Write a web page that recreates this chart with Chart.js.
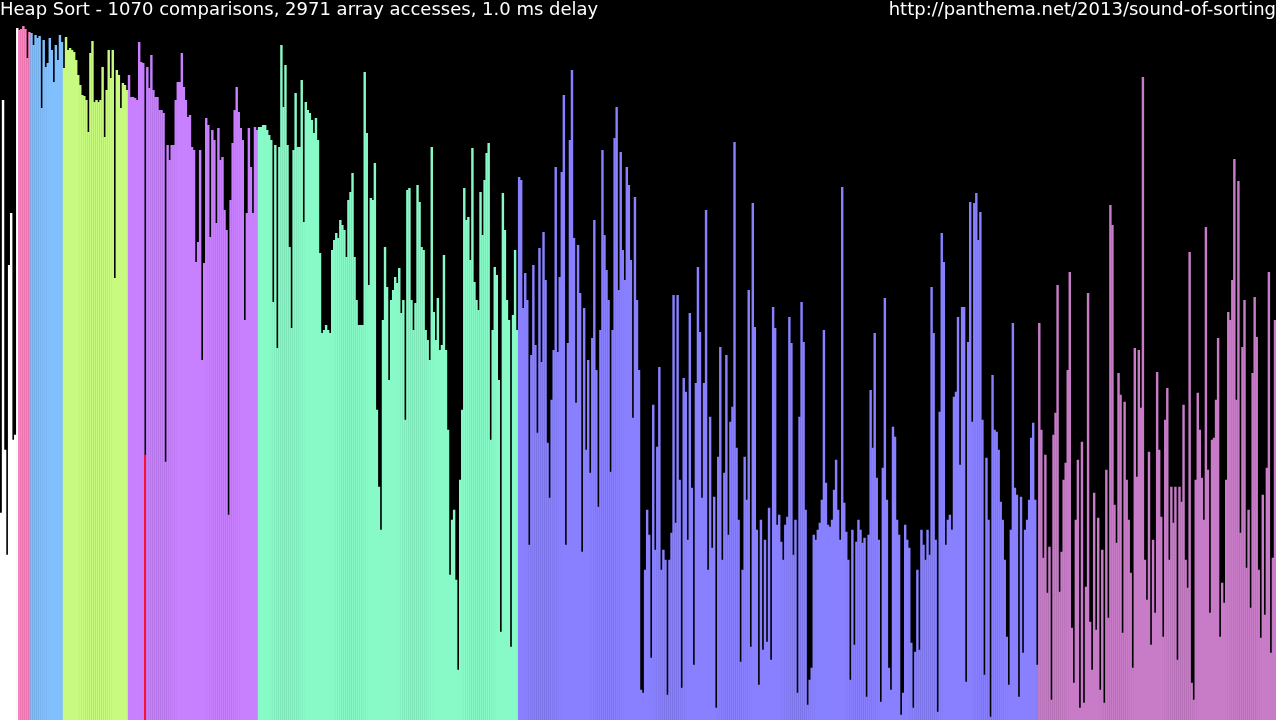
<!DOCTYPE html>
<html>
<head>
<meta charset="utf-8">
<script src="https://cdn.jsdelivr.net/npm/chart.js@4"></script>
<style>
html,body{margin:0;padding:0;background:#000;overflow:hidden;}
canvas{display:block;}
</style>
</head>
<body>
<canvas id="c" width="1276" height="720"></canvas>
<script>
// Heap levels 0-3 (indices 0-14)
const heapTop = [207,620,270,165,455,507,280,285,692,690,691,694,691,662,688];
// level 4 (indices 15-30)
const level4 = [687,675,685,682,684,612,680,653,657,682,670,638,675,660,685,678];
// level 5 (indices 31-62)
const level5 = [652,683,670,672,670,668,660,645,635,625,624,620,588,667,679,618,620,618,620,653,583,630,670,642,670,442,650,645,612,637,635,630];
// level 6 (indices 63-126)
const level6 = [645,623,623,622,620,678,658,657,265,653,632,665,630,623,623,610,610,607,258,575,560,575,575,620,638,638,667,633,620,603,605,573,570,458,478,570,360,457,602,595,483,590,580,497,592,560,563,510,490,205,520,577,610,633,608,592,580,400,507,592,553,507,593,590];
// level 7 (indices 127-254)
const level7 = [593,593,595,595,590,585,580,418,575,372,
573,675,613,655,575,473,392,570,627,573,
573,640,498,618,610,607,600,587,602,580,
467,387,390,395,390,387,470,480,487,482,
500,495,490,463,520,528,547,463,420,395,
395,395,648,587,435,522,520,557,310,233,
190,400,473,433,340,420,430,443,437,452,
407,420,300,530,532,420,390,417,535,518,
473,470,390,380,360,573,408,380,422,370,
375,465,370,290,145,200,210,140,50,240,
310,532,500,503,460,572,438,420,410,528,
485,540,567,577,280,390,453,445,340,88,
527,490,420,400,73,405,470,390];
// level 8 (indices 255-510)
const level8 = [543,540,412,447,420,175,365,455,375,287,
472,358,488,440,277,222,320,370,553,368,
443,548,625,175,377,580,650,482,317,475,
427,168,412,270,360,247,382,500,350,213,
390,570,485,450,420,248,390,582,613,430,
568,470,440,553,535,460,302,523,420,350,
30,
27,150,210,185,62,315,170,273,353,150,
170,160,25,160,187,425,197,425,240,32,
342,328,180,407,232,55,337,453,388,222,
337,510,150,303,172,223,12,263,373,160,
247,365,185,298,313,578,272,200,58,150,
263,220,430,73,517,393,190,35,200,70,
180,78,212,60,413,392,195,205,178,160,
195,203,403,377,165,200,27,303,418,378,
210,15,40,52,185,180,190,197,220,390,
237,195,193,200,230,260,210,180,533,217,
188,160,40,190,75,178,
200,190,177,182,23,185,330,272,387,242,180,18,252,422,220,52,30,293,283,200,185,5,27,195,180,172,77,
12,68,150,70,190,175,160,190,165,433,
387,180,8,308,487,458,175,200,205,190,
323,328,403,255,413,413,38,378,518,298,
517,527,480,508,300,45,262,200,3,345,
290,288,270,218,200,160,83,35,190,397,
232,225,23,223,67,190,200,220,282,297,
220,55];
// level 9 (indices 511-627)
const level9 = [397,290,162,265,127,173,20,285,307,435,
128,168,240,257,350,448,92,37,200,260,
12,278,17,133,427,98,50,227,90,202,
30,170,17,250,102,515,495,215,177,347,
325,87,318,240,200,147,52,372,243,370,
312,643,160,120,268,75,180,107,348,270,
203,83,300,332,160,233,197,233,60,233,
218,315,160,132,468,37,20,240,327,290,
242,200,493,250,107,280,282,320,382,83,
137,117,240,408,400,440,561,320,539,187,
373,420,152,210,112,347,423,383,150,82,
225,105,252,448,67,162,400];

const titleText = "Heap Sort - 1070 comparisons, 2971 array accesses, 1.0 ms delay";
const urlText = "http://panthema.net/2013/sound-of-sorting";
const whiteMarked = [7, 8];
const redMarked = [71];

const values = [].concat(heapTop, level4, level5, level6, level7, level8, level9);
const labels = values.map((_, i) => i);

const levelColors = ['#ffffff','#ffffff','#ffffff','#ff80c0','#80c0ff','#c8fa80','#c880ff','#88fac8','#8880ff','#c87cc8'];
const colors = values.map((_, i) => {
  if (redMarked.includes(i)) return '#ff1030';
  if (whiteMarked.includes(i)) return '#ffffff';
  return levelColors[Math.floor(Math.log2(i + 1))];
});

const urlPlugin = {
  id: 'urlText',
  afterDraw(chart) {
    const ctx = chart.ctx;
    ctx.save();
    ctx.font = '18px "DejaVu Sans"';
    ctx.fillStyle = '#ffffff';
    ctx.textAlign = 'right';
    ctx.textBaseline = 'middle';
    ctx.fillText(urlText, chart.width, 10);
    ctx.restore();
  }
};

new Chart(document.getElementById('c'), {
  type: 'bar',
  data: {
    labels: labels,
    datasets: [{
      data: values,
      backgroundColor: colors,
      borderWidth: 0,
      inflateAmount: 0.2,
      barPercentage: 1.0,
      categoryPercentage: 1.0
    }]
  },
  options: {
    responsive: false,
    devicePixelRatio: 1,
    animation: false,
    layout: { padding: 0 },
    plugins: {
      legend: { display: false },
      tooltip: { enabled: false },
      title: {
        display: true,
        text: titleText,
        align: 'start',
        color: '#ffffff',
        font: { family: 'DejaVu Sans', size: 18, weight: 'normal', lineHeight: 1.12 },
        padding: { top: 0, bottom: 0 }
      }
    },
    scales: {
      x: { display: false, grid: { display: false } },
      y: { display: false, min: 0, max: 700, grid: { display: false } }
    }
  },
  plugins: [urlPlugin]
});
</script>
</body>
</html>
